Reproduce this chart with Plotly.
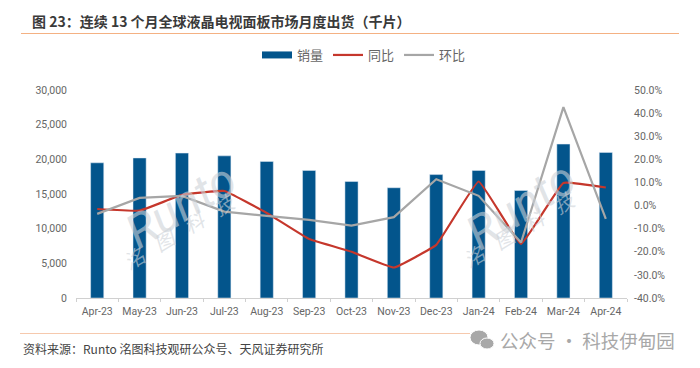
import plotly.graph_objects as go

months = ["Apr-23","May-23","Jun-23","Jul-23","Aug-23","Sep-23","Oct-23","Nov-23","Dec-23","Jan-24","Feb-24","Mar-24","Apr-24"]
volume = [19500,20200,20900,20500,19700,18400,16800,15900,17800,18400,15500,22200,21000]
yoy = [-1.5,-2.2,4.6,6.3,-3.2,-14.5,-20,-26.8,-17,10.4,-16.6,9.8,7.8]
mom = [-3.6,3.3,4.2,-2.6,-4.5,-6.2,-8.7,-5,11.4,4.2,-16,42.6,-5.8]
left_ticks = [0,5000,10000,15000,20000,25000,30000]
right_ticks = [-40,-30,-20,-10,0,10,20,30,40,50]
right_labels = ["-40.0%","-30.0%","-20.0%","-10.0%","0.0%","10.0%","20.0%","30.0%","40.0%","50.0%"]

CJK = "Noto Sans CJK SC"
LAT = "Roboto, " + CJK
GREY = "#666666"
# the page adds an 8 px body margin, so figure pixels = picture pixels - 8
OFF = 8
W, H = 700 - 2*OFF, 368 - 2*OFF
L, R, T, B = 76, 627, 90, 298
def px(x): return (x - L) / (R - L)
def py(y): return (B - y) / (B - T)

fig = go.Figure()
fig.add_bar(x=months, y=volume, name="销量", marker_color="#03558c", width=0.31, showlegend=False)
fig.add_scatter(x=[months[0]], y=[None], mode="lines", name="销量", line=dict(color="#03558c", width=7), showlegend=True)
fig.add_scatter(x=months, y=yoy, yaxis="y2", name="同比", mode="lines", line=dict(color="#c5372c", width=2.2, shape="spline", smoothing=0.25))
fig.add_scatter(x=months, y=mom, yaxis="y2", name="环比", mode="lines", line=dict(color="#a6a6a6", width=2.2))

WM = "rgba(205,210,216,0.6)"
for text, x, y, size, ang in [
    ("Runto", 180, 205, 47, -31),
    ("洺   图   科   技", 180, 232, 20, -31),
    ("Runto", 520, 205, 47, -33),
    ("洺   图   科   技", 520, 230, 20, -31),
]:
    fig.add_annotation(text=text, xref="paper", yref="paper", x=px(x), y=py(y), showarrow=False,
                       xanchor="center", yanchor="middle", textangle=ang,
                       font=dict(family=LAT, size=size, color=WM, style="italic"))

fig.add_annotation(text="<b>图 23：连续 13 个月全球液晶电视面板市场月度出货（千片）</b>", xref="paper", yref="paper",
                   x=px(30), y=py(21), xanchor="left", yanchor="middle", showarrow=False, font=dict(family=CJK, size=14, color="#3a3a3a"))
fig.add_annotation(text="资料来源：Runto 洺图科技观研公众号、天风证券研究所", xref="paper", yref="paper",
                   x=px(21), y=py(348), xanchor="left", yanchor="middle", showarrow=False, font=dict(family=CJK, size=12, color="#444444"))
fig.add_annotation(text="公众号 · 科技伊甸园", xref="paper", yref="paper",
                   x=px(498), y=py(340), xanchor="left", yanchor="middle", showarrow=False, font=dict(family=CJK, size=18.5, color="#a8a8a8"))
for x0, x1, y, c in [(21, 679, 33.5, "#f4b183"), (20, 470, 333.5, "#f6c9ad")]:
    fig.add_shape(type="line", xref="paper", yref="paper", x0=px(x0), x1=px(x1), y0=py(y), y1=py(y), line=dict(color=c, width=1))
for x0, x1, y0, y1 in [(470, 488, 330, 345), (480, 494, 338, 349)]:
    fig.add_shape(type="circle", xref="paper", yref="paper", x0=px(x0), x1=px(x1), y0=py(y0), y1=py(y1),
                  fillcolor="#a8a8a8", line=dict(color="white", width=1))

fig.update_layout(
    width=W, height=H, paper_bgcolor="white", plot_bgcolor="white", autosize=False,
    margin=dict(l=L-OFF, r=W-(R-OFF), t=T-OFF, b=H-(B-OFF), autoexpand=False),
    font=dict(family=LAT, size=10, color=GREY),
    barmode="overlay",
    legend=dict(orientation="h", xref="container", yref="container", x=(364-OFF)/W, y=1-32/H, xanchor="center", yanchor="top",
                font=dict(family=CJK, size=13, color=GREY), bgcolor="rgba(0,0,0,0)", itemwidth=30, tracegroupgap=0),
    xaxis=dict(type="category", categoryorder="array", categoryarray=months, tickson="boundaries", ticks="outside", ticklen=3,
               tickcolor="#d0d0d0", showline=True, linecolor="#d0d0d0", showgrid=False, tickangle=0, ticklabelstandoff=3, tickfont=dict(size=10.5, color=GREY)),
    yaxis=dict(range=[0,30000], tickvals=left_ticks, tickformat=",d", showgrid=False, zeroline=False, ticks="", ticklabelstandoff=8, tickfont=dict(size=10.5, color=GREY)),
    yaxis2=dict(range=[-40,50], overlaying="y", side="right", tickmode="array", tickvals=right_ticks, ticktext=right_labels, showgrid=False, zeroline=False, ticks="", ticklabelstandoff=6, tickfont=dict(size=10.5, color=GREY)),
)
fig.write_html("out.html")
